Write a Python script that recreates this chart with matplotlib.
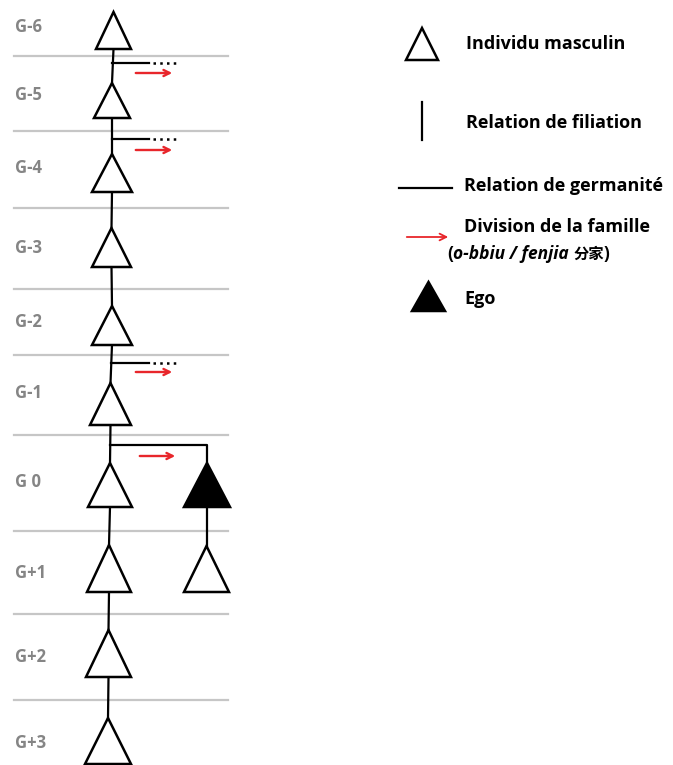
import matplotlib.pyplot as plt
from matplotlib.patches import Polygon

# generations, label positions and separators (pixel coords of the original)
gen_labels = ['G-6', 'G-5', 'G-4', 'G-3', 'G-2', 'G-1', 'G 0', 'G+1', 'G+2', 'G+3']
gen_label_y = [27, 95, 168, 248, 322, 393, 482, 573, 657, 743]
separator_y = [56, 131, 208, 289, 355, 435, 531, 614, 700]

# main line of descent: one triangle per generation
main_top = [12, 83, 154, 228, 306, 383, 463, 545, 630, 718]
main_base = [49, 118, 192, 267, 345, 425, 507, 592, 677, 764]
main_left = [96, 94, 92, 92, 92, 90, 88, 87, 86, 85]
main_right = [131, 130, 132, 131, 132, 131, 132, 131, 131, 131]

# side branches (brother splitting off) : y of sibling line, y of red arrow
branch_y = [63, 139, 363]
branch_arrow_y = [73, 150, 372]

# ego branch
ego_branch_y = 445
ego_arrow_y = 456
ego_x = 207
ego_top, ego_base = 463, 507
son_top, son_base = 546, 592

red = '#e8262b'
grey_txt = '#858585'

fig = plt.figure(figsize=(6.73, 7.65), dpi=100)
ax = fig.add_axes([0, 0, 1, 1])
ax.set_xlim(0, 673)
ax.set_ylim(765, 0)
ax.axis('off')

font = 'Open Sans'

for y in separator_y:
    ax.plot([14, 228], [y, y], color='#c6c6c6', lw=1.6, zorder=1)

for lab, y in zip(gen_labels, gen_label_y):
    ax.text(15, y, lab, color=grey_txt, fontsize=12, fontweight='bold',
            fontfamily=font, va='center', ha='left')

def tri(ax, top, base, left, right, filled=False):
    cx = (left + right) / 2
    p = Polygon([[cx, top], [left, base], [right, base]], closed=True,
                facecolor='black' if filled else 'white', edgecolor='black',
                lw=1.8, joinstyle='miter', zorder=3)
    ax.add_patch(p)

# vertical filiation line of the main column
main_cx = [(l + r) / 2 for l, r in zip(main_left, main_right)]
for i in range(len(main_top) - 1):
    ax.plot([main_cx[i], main_cx[i + 1]], [main_base[i], main_top[i + 1]],
            color='black', lw=1.6, zorder=2)

for t, b, l, r in zip(main_top, main_base, main_left, main_right):
    tri(ax, t, b, l, r)

# branches with dotted continuation
for y, ay in zip(branch_y, branch_arrow_y):
    x0 = 112 if y < 300 else 110.5
    ax.plot([x0, 149], [y, y], color='black', lw=1.6, zorder=2)
    ax.plot([153, 178], [y, y], color='black', lw=1.8, ls=(0, (1, 1.7)), zorder=2)
    ax.annotate('', xy=(175, ay), xytext=(133, ay),
                arrowprops=dict(arrowstyle='->', color=red, lw=1.7,
                                mutation_scale=11))

# ego branch
ax.plot([110, ego_x, ego_x], [ego_branch_y, ego_branch_y, ego_top],
        color='black', lw=1.6, zorder=2)
ax.annotate('', xy=(178, ego_arrow_y), xytext=(137, ego_arrow_y),
            arrowprops=dict(arrowstyle='->', color=red, lw=1.7, mutation_scale=11))
tri(ax, ego_top, ego_base, 184, 230, filled=True)
ax.plot([ego_x, ego_x], [ego_base, son_top], color='black', lw=1.6, zorder=2)
tri(ax, son_top, son_base, 184, 229)

# legend
lfs = 13
tri(ax, 28, 60, 406, 438)
ax.text(466, 44, 'Individu masculin', fontsize=lfs, fontweight='bold',
        fontfamily=font, va='center')
ax.plot([422, 422], [102, 140], color='black', lw=1.6)
ax.text(466, 123, 'Relation de filiation', fontsize=lfs, fontweight='bold',
        fontfamily=font, va='center')
ax.plot([399, 452], [188, 188], color='black', lw=1.6)
ax.text(464, 186, 'Relation de germanité', fontsize=lfs, fontweight='bold',
        fontfamily=font, va='center')
ax.annotate('', xy=(451, 237), xytext=(404, 237),
            arrowprops=dict(arrowstyle='->', color=red, lw=1.3, mutation_scale=12))
ax.text(464, 227, 'Division de la famille', fontsize=lfs, fontweight='bold',
        fontfamily=font, va='center')
ax.text(464, 299, 'Ego', fontsize=lfs, fontweight='bold', fontfamily=font, va='center')
tri(ax, 282, 311, 412, 445, filled=True)

# the mixed-style line, pieces placed one after another
pieces = [('(', 'normal', font, 12.5), ('o-bbiu / fenjia ', 'italic', font, 12.5),
          ('分家', 'normal', ['Noto Sans CJK SC', 'DejaVu Sans'], 11),
          (')', 'normal', font, 12.5)]
fig.canvas.draw()
r = fig.canvas.get_renderer()
x = 447
for s, st, fam, fs in pieces:
    t = ax.text(x, 254, s, fontsize=fs, fontweight='bold', style=st,
                fontfamily=fam, va='center')
    bb = t.get_window_extent(renderer=r)
    x += bb.width * 673 / fig.bbox.width

fig.savefig('out.png', dpi=100)
